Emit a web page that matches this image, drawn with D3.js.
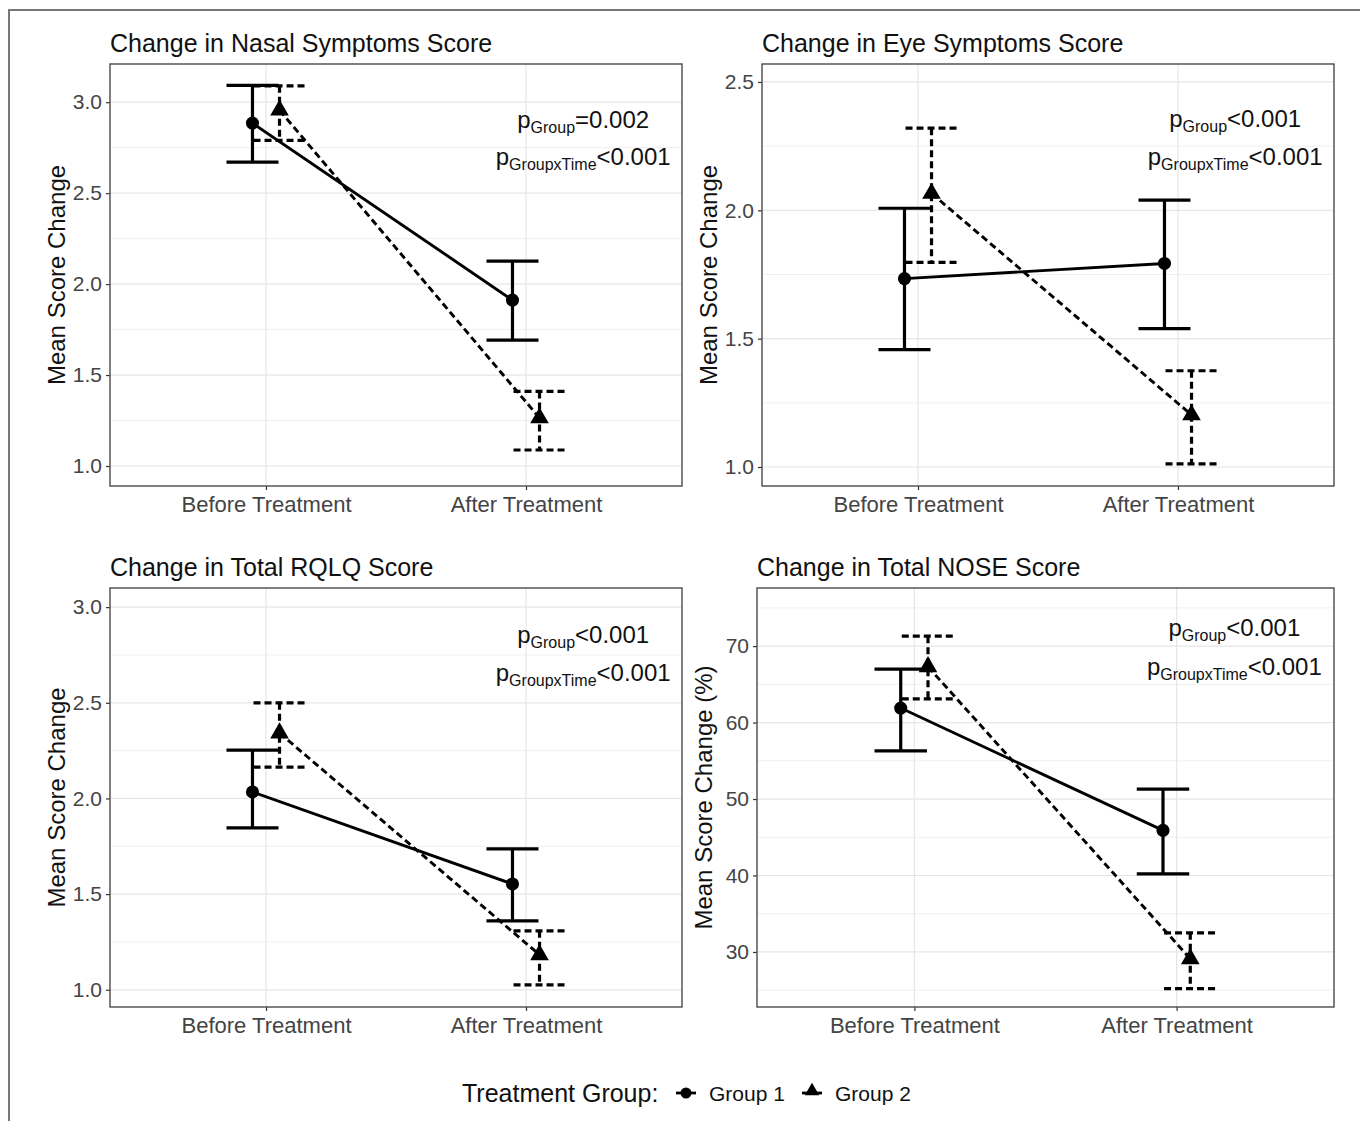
<!DOCTYPE html>
<html>
<head>
<meta charset="utf-8">
<script src="https://cdn.jsdelivr.net/npm/d3@7"></script>
<style>
  body { margin: 0; background: #fff; }
  svg { display: block; font-family: "Liberation Sans", Arial, sans-serif; }
</style>
</head>
<body>
<svg id="chart" width="1360" height="1121"></svg>
<script>
'use strict';

// categories
var times = ["Before Treatment", "After Treatment"];
var groups = ["Group 1", "Group 2"];

// [group][time] values
var nasalMean = [[2.885, 1.912], [2.956, 1.264]];
var nasalLow  = [[2.670, 1.692], [2.790, 1.088]];
var nasalHigh = [[3.093, 2.126], [3.090, 1.410]];

var eyeMean = [[1.734, 1.793], [2.066, 1.203]];
var eyeLow  = [[1.457, 1.539], [1.797, 1.012]];
var eyeHigh = [[2.008, 2.040], [2.320, 1.375]];

var rqlqMean = [[2.034, 1.553], [2.342, 1.183]];
var rqlqLow  = [[1.846, 1.360], [2.164, 1.026]];
var rqlqHigh = [[2.253, 1.736], [2.500, 1.308]];

var noseMean = [[61.9, 45.9], [67.3, 29.1]];
var noseLow  = [[56.3, 40.2], [63.1, 25.2]];
var noseHigh = [[67.0, 51.3], [71.3, 32.5]];

// tick labels
var scoreTicks = [1.0, 1.5, 2.0, 2.5, 3.0];
var eyeTicks = [1.0, 1.5, 2.0, 2.5];
var noseTicks = [30, 40, 50, 60, 70];

// p-value annotations
var pGroupText = ["=0.002", "<0.001", "<0.001", "<0.001"];
var pTimeText = ["<0.001", "<0.001", "<0.001", "<0.001"];

var svg = d3.select("#chart");

// outer frame (cut off at right/bottom)
svg.append("path")
  .attr("d", "M9,1121L9,10L1360,10")
  .attr("fill", "none")
  .attr("stroke", "#777")
  .attr("stroke-width", 2);

var panels = [
  { title: "Change in Nasal Symptoms Score", ylab: "Mean Score Change",
    mean: nasalMean, low: nasalLow, high: nasalHigh, ticks: scoreTicks, fmt: d3.format(".1f"),
    domain: [0.89, 3.21], ann: [2.90, 2.70], x0: 110, x1: 682, y0: 64, y1: 486 },
  { title: "Change in Eye Symptoms Score", ylab: "Mean Score Change",
    mean: eyeMean, low: eyeLow, high: eyeHigh, ticks: eyeTicks, fmt: d3.format(".1f"),
    domain: [0.926, 2.57], ann: [2.355, 2.207], x0: 762, x1: 1334, y0: 64, y1: 486 },
  { title: "Change in Total RQLQ Score", ylab: "Mean Score Change",
    mean: rqlqMean, low: rqlqLow, high: rqlqHigh, ticks: scoreTicks, fmt: d3.format(".1f"),
    domain: [0.91, 3.10], ann: [2.854, 2.655], x0: 110, x1: 682, y0: 588, y1: 1007 },
  { title: "Change in Total NOSE Score", ylab: "Mean Score Change (%)",
    mean: noseMean, low: noseLow, high: noseHigh, ticks: noseTicks, fmt: d3.format("d"),
    domain: [22.8, 77.6], ann: [72.4, 67.3], x0: 757, x1: 1334, y0: 588, y1: 1007 }
];

var dash = "7,4";
var circle = d3.symbol().type(d3.symbolCircle).size(135);
var triangle = d3.symbol().type(d3.symbolTriangle).size(150);

panels.forEach(function(p, pi) {
  var g = svg.append("g");
  var x = d3.scalePoint().domain(times).range([p.x0, p.x1]).padding(0.6);
  var y = d3.scaleLinear().domain(p.domain).range([p.y1, p.y0]);
  var step = x.step();
  var dodge = [-0.052 * step, 0.052 * step];

  //
  // grid
  //
  var half = (p.ticks[1] - p.ticks[0]) / 2;
  var minor = p.ticks.map(function(t) { return t - half; })
    .concat([p.ticks[p.ticks.length - 1] + half])
    .filter(function(t) { return t > p.domain[0] && t < p.domain[1]; });

  g.selectAll(".minor").data(minor).enter().append("line")
    .attr("x1", p.x0).attr("x2", p.x1)
    .attr("y1", function(d) { return y(d); }).attr("y2", function(d) { return y(d); })
    .attr("stroke", "#f0f0f0").attr("stroke-width", 1);

  g.selectAll(".major").data(p.ticks).enter().append("line")
    .attr("x1", p.x0).attr("x2", p.x1)
    .attr("y1", function(d) { return y(d); }).attr("y2", function(d) { return y(d); })
    .attr("stroke", "#e6e6e6").attr("stroke-width", 1.2);

  g.selectAll(".vmajor").data(times).enter().append("line")
    .attr("x1", function(d) { return x(d); }).attr("x2", function(d) { return x(d); })
    .attr("y1", p.y0).attr("y2", p.y1)
    .attr("stroke", "#e6e6e6").attr("stroke-width", 1.2);

  //
  // axes
  //
  var ya = g.append("g").attr("transform", "translate(" + p.x0 + ",0)")
    .call(d3.axisLeft(y).tickValues(p.ticks).tickFormat(p.fmt).tickSize(4).tickPadding(4));
  var xa = g.append("g").attr("transform", "translate(0," + p.y1 + ")")
    .call(d3.axisBottom(x).tickSize(4).tickPadding(6));
  [ya, xa].forEach(function(a) {
    a.select(".domain").remove();
    a.selectAll(".tick line").attr("stroke", "#333").attr("stroke-width", 1.2);
    a.selectAll(".tick text").attr("fill", "#444").style("font-size", "21px")
      .style("font-family", "'Liberation Sans', Arial, sans-serif");
  });
  xa.selectAll(".tick text").style("font-size", "22px");

  // panel border
  g.append("rect")
    .attr("x", p.x0).attr("y", p.y0)
    .attr("width", p.x1 - p.x0).attr("height", p.y1 - p.y0)
    .attr("fill", "none").attr("stroke", "#4a4a4a").attr("stroke-width", 1.4);

  // titles
  g.append("text")
    .attr("x", p.x0).attr("y", p.y0 - 12)
    .style("font-size", "25px").attr("fill", "#111")
    .text(p.title);

  g.append("text")
    .attr("transform", "translate(" + (p.x0 - 45) + "," + ((p.y0 + p.y1) / 2) + ") rotate(-90)")
    .attr("text-anchor", "middle")
    .style("font-size", "24px").attr("fill", "#111")
    .text(p.ylab);

  //
  // series
  //
  groups.forEach(function(grp, gi) {
    var pts = times.map(function(t, ti) {
      return { x: x(t) + dodge[gi], m: p.mean[gi][ti], lo: p.low[gi][ti], hi: p.high[gi][ti] };
    });
    var capW = 0.1 * step;
    var sg = g.append("g")
      .attr("fill", "none").attr("stroke", "#000").attr("stroke-width", 3.2)
      .attr("stroke-dasharray", gi === 1 ? dash : null);

    sg.append("path")
      .attr("stroke-width", 2.9)
      .attr("d", d3.line().x(function(d) { return d.x; }).y(function(d) { return y(d.m); })(pts));

    pts.forEach(function(d) {
      sg.append("path")
        .attr("d", "M" + (d.x - capW) + "," + y(d.hi) + "H" + (d.x + capW) +
          "M" + d.x + "," + y(d.hi) + "V" + y(d.lo) +
          "M" + (d.x - capW) + "," + y(d.lo) + "H" + (d.x + capW));
    });

    g.selectAll(".pt" + gi).data(pts).enter().append("path")
      .attr("transform", function(d) { return "translate(" + d.x + "," + y(d.m) + ")"; })
      .attr("d", gi === 0 ? circle() : triangle())
      .attr("fill", "#000");
  });

  //
  // p-value annotations
  //
  var ax = x(times[1]) + 0.22 * step;
  var t1 = g.append("text").attr("x", ax).attr("y", y(p.ann[0]) + 8)
    .attr("text-anchor", "middle").style("font-size", "24px").attr("fill", "#111");
  t1.append("tspan").text("p");
  t1.append("tspan").attr("dy", 5).style("font-size", "16px").text("Group");
  t1.append("tspan").attr("dy", -5).text(pGroupText[pi]);

  var t2 = g.append("text").attr("x", ax).attr("y", y(p.ann[1]) + 8)
    .attr("text-anchor", "middle").style("font-size", "24px").attr("fill", "#111");
  t2.append("tspan").text("p");
  t2.append("tspan").attr("dy", 5).style("font-size", "16px").text("GroupxTime");
  t2.append("tspan").attr("dy", -5).text(pTimeText[pi]);
});

//
// legend
//
var lg = svg.append("g").attr("transform", "translate(0,1093)");
lg.append("text").attr("x", 462).attr("y", 9)
  .style("font-size", "25px").attr("fill", "#111")
  .text("Treatment Group:");

var keyX = [686, 812];
groups.forEach(function(grp, gi) {
  lg.append("line")
    .attr("x1", keyX[gi] - 10).attr("x2", keyX[gi] + 10)
    .attr("y1", 0).attr("y2", 0)
    .attr("stroke", "#000").attr("stroke-width", 2.8);
  lg.append("path")
    .attr("transform", "translate(" + keyX[gi] + "," + (gi === 0 ? 0 : -2) + ")")
    .attr("d", gi === 0 ? d3.symbol().type(d3.symbolCircle).size(95)() : d3.symbol().type(d3.symbolTriangle).size(90)())
    .attr("fill", "#000");
  lg.append("text").attr("x", keyX[gi] + 23).attr("y", 8)
    .style("font-size", "21px").attr("fill", "#111")
    .text(grp);
});
</script>
</body>
</html>
